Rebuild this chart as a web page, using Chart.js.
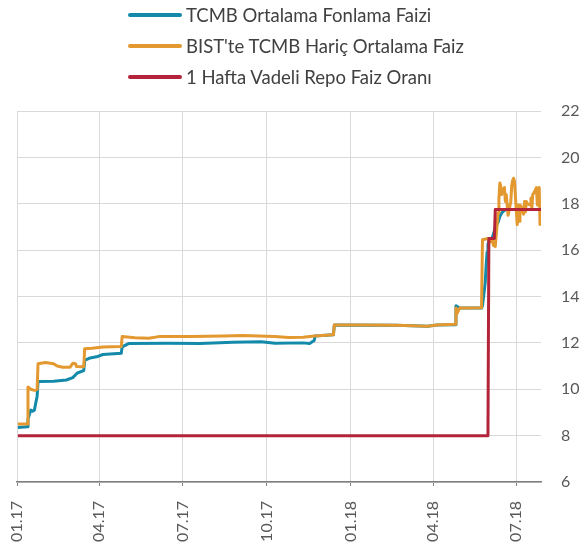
<!DOCTYPE html>
<html>
<head>
<meta charset="utf-8">
<script src="https://cdn.jsdelivr.net/npm/chart.js@4.4.0/dist/chart.umd.min.js"></script>
<style>
body{margin:0;background:#fff;font-family:Lato, "Open Sans", sans-serif}
#wrap{position:relative;width:584px;height:552px}
#legend{position:absolute;left:128px;top:-1px}
.leg-row{display:flex;align-items:center;height:31px}
.leg-line{width:54px;height:4px;margin-right:4px;border-radius:2px}
.leg-text{font-size:18.5px;color:#404040;white-space:nowrap}
</style>
</head>
<body>
<div id="wrap">
  <canvas id="chart"></canvas>
  <div id="legend"></div>
</div>
<script>
// x ekseni: 01.01.2017'den itibaren gün
var tickDates = ['2017-01-01', '2017-04-01', '2017-07-01', '2017-10-01', '2018-01-01', '2018-04-01', '2018-07-01']
var tickLabels = ['01.17', '04.17', '07.17', '10.17', '01.18', '04.18', '07.18']
var yTicksMin = 6, yTicksMax = 22, yStep = 2

var fonlamaDates = ['2017-01-02', '2017-01-12', '2017-01-13', '2017-01-16', '2017-01-18', '2017-01-20', '2017-01-23', '2017-01-24',
    '2017-02-10', '2017-02-24', '2017-03-03', '2017-03-08', '2017-03-15', '2017-03-16', '2017-03-22', '2017-03-29', '2017-04-05',
    '2017-04-25', '2017-04-26', '2017-05-03', '2017-06-15', '2017-07-20', '2017-08-25', '2017-09-25', '2017-10-10', '2017-11-10',
    '2017-11-17', '2017-11-22', '2017-11-23', '2017-12-13', '2017-12-14', '2018-02-20', '2018-03-26', '2018-04-05', '2018-04-25',
    '2018-04-26', '2018-04-30', '2018-05-24', '2018-05-25', '2018-05-28', '2018-05-29', '2018-05-30', '2018-05-31', '2018-06-01',
    '2018-06-04', '2018-06-06', '2018-06-08', '2018-06-11', '2018-06-13', '2018-06-15', '2018-06-18', '2018-06-20', '2018-07-27']
var fonlamaValues = [8.35, 8.38, 8.7, 9.1, 9.05, 9.1, 9.7, 10.33,
    10.35, 10.4, 10.5, 10.7, 10.8, 11.25, 11.35, 11.4, 11.5,
    11.55, 11.83, 11.97, 11.98, 11.97, 12.03, 12.05, 11.98, 12.0,
    11.97, 12.1, 12.3, 12.35, 12.77, 12.76, 12.72, 12.77, 12.78,
    13.6, 13.5, 13.5, 13.6, 14.6, 15.3, 15.9, 16.25, 16.4,
    16.45, 16.7, 16.95, 17.2, 17.45, 17.6, 17.72, 17.75, 17.75]

var bistDates = ['2017-01-02', '2017-01-12', '2017-01-13', '2017-01-16', '2017-01-20', '2017-01-23', '2017-01-24', '2017-02-01',
    '2017-02-10', '2017-02-14', '2017-02-20', '2017-02-28', '2017-03-03', '2017-03-06', '2017-03-07', '2017-03-15', '2017-03-16',
    '2017-03-24', '2017-04-05', '2017-04-25', '2017-04-26', '2017-05-10', '2017-05-25', '2017-06-05', '2017-07-10', '2017-08-15',
    '2017-09-05', '2017-10-10', '2017-10-25', '2017-11-10', '2017-11-22', '2017-12-13', '2017-12-14', '2018-01-15', '2018-02-20',
    '2018-03-26', '2018-04-05', '2018-04-25', '2018-04-26', '2018-04-27', '2018-04-30', '2018-05-10', '2018-05-24', '2018-05-25',
    '2018-05-31', '2018-06-01', '2018-06-04', '2018-06-05', '2018-06-06', '2018-06-07', '2018-06-08', '2018-06-11', '2018-06-12',
    '2018-06-13', '2018-06-14', '2018-06-15', '2018-06-18', '2018-06-19', '2018-06-20', '2018-06-21', '2018-06-22', '2018-06-25',
    '2018-06-26', '2018-06-27', '2018-06-28', '2018-06-29', '2018-07-02', '2018-07-03', '2018-07-04', '2018-07-05', '2018-07-06',
    '2018-07-09', '2018-07-10', '2018-07-11', '2018-07-12', '2018-07-13', '2018-07-16', '2018-07-17', '2018-07-18', '2018-07-19',
    '2018-07-20', '2018-07-23', '2018-07-24', '2018-07-25', '2018-07-26', '2018-07-27']
var bistValues = [8.5, 8.5, 10.1, 10.0, 9.95, 10.0, 11.1, 11.15,
    11.1, 11.0, 10.95, 10.95, 11.12, 11.1, 10.98, 10.97, 11.75,
    11.77, 11.82, 11.84, 12.27, 12.22, 12.2, 12.27, 12.28, 12.3,
    12.32, 12.27, 12.23, 12.24, 12.3, 12.35, 12.77, 12.77, 12.76,
    12.72, 12.77, 12.8, 13.5, 13.25, 13.5, 13.5, 13.52, 16.45,
    16.5, 16.45, 16.35, 16.45, 16.2, 16.3, 16.15, 17.6, 18.2,
    18.9, 18.75, 18.4, 18.7, 18.1, 18.4, 17.95, 17.5, 18.1,
    18.8, 19.0, 19.1, 18.95, 17.1, 17.95, 17.25, 17.95, 17.9,
    17.55, 18.1, 17.65, 18.1, 18.0, 17.95, 18.25, 17.8, 18.4,
    18.45, 18.7, 17.95, 18.4, 18.7, 17.05]

var repoDates = ['2017-01-02', '2018-05-31', '2018-06-01', '2018-06-07', '2018-06-08', '2018-07-28']
var repoValues = [8, 8, 16.5, 16.5, 17.75, 17.75]

var xMaxDate = '2018-07-28'

var seriesNames = ['TCMB Ortalama Fonlama Faizi', "BIST'te TCMB Hariç Ortalama Faiz", '1 Hafta Vadeli Repo Faiz Oranı']
var seriesColors = ['#138aa9', '#e3992f', '#b3243a']

function dayOf(d){
    return Math.round((Date.parse(d) - Date.parse('2017-01-01')) / 86400000)
}
function toPoints(dates, values){
    return dates.map(function(d, i){ return {x: dayOf(d), y: values[i]} })
}

function makeLegend(){
    var legend = document.getElementById('legend')
    legend.innerHTML = ''
    for(var i = 0; i < seriesNames.length; i++){
        var row = document.createElement('div')
        row.className = 'leg-row'
        var line = document.createElement('span')
        line.className = 'leg-line'
        line.style.background = seriesColors[i]
        var txt = document.createElement('span')
        txt.className = 'leg-text'
        txt.textContent = seriesNames[i]
        row.appendChild(line)
        row.appendChild(txt)
        legend.appendChild(row)
    }
}

function lineDataset(idx, dates, values, order){
    return {
        label: seriesNames[idx],
        data: toPoints(dates, values),
        borderColor: seriesColors[idx],
        backgroundColor: seriesColors[idx],
        borderWidth: 3,
        pointRadius: 0,
        tension: 0,
        borderJoinStyle: 'round',
        order: order
    }
}

makeLegend()

var tickFont = {family: 'Lato', size: 16}
new Chart(document.getElementById('chart'), {
    type: 'line',
    data: {
        datasets: [
            lineDataset(0, fonlamaDates, fonlamaValues, 3),
            lineDataset(1, bistDates, bistValues, 2),
            lineDataset(2, repoDates, repoValues, 1)
        ]
    },
    options: {
        animation: false,
        responsive: true,
        maintainAspectRatio: false,
        layout: {padding: {top: 111, left: 17, right: 0, bottom: 0}},
        scales: {
            x: {
                type: 'linear',
                min: 0,
                max: dayOf(xMaxDate),
                afterBuildTicks: function(scale){
                    scale.ticks = tickDates.map(function(d){ return {value: dayOf(d)} })
                },
                afterFit: function(scale){ scale.height = 70 },
                grid: {color: '#d9d9d9', tickColor: '#7f7f7f', tickLength: 4},
                border: {color: '#7f7f7f', width: 1.5},
                ticks: {
                    autoSkip: false, minRotation: 90, maxRotation: 90, padding: 15,
                    color: '#595959', font: tickFont,
                    callback: function(value, index){ return tickLabels[index] }
                }
            },
            y: {
                position: 'right',
                min: yTicksMin,
                max: yTicksMax,
                afterFit: function(scale){ scale.width = 43 },
                grid: {color: '#d9d9d9', drawTicks: false},
                border: {display: false},
                ticks: {stepSize: yStep, padding: 20, color: '#595959', font: tickFont}
            }
        },
        plugins: {
            legend: {display: false},
            tooltip: {enabled: false}
        }
    }
})
</script>
</body>
</html>
